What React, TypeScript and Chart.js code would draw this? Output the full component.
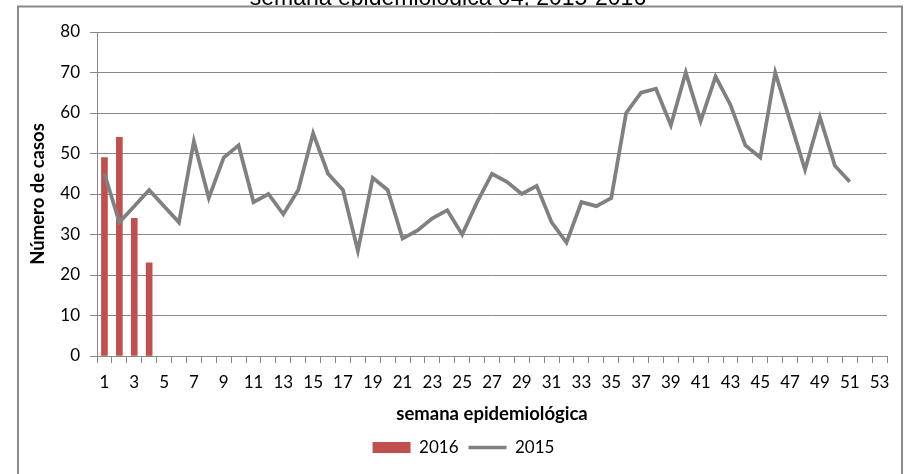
import React, { useEffect, useRef } from "react";
import { Chart, registerables } from "chart.js";

Chart.register(...registerables);

const weeks: string[] = Array.from({ length: 53 }, (_, i) => String(i + 1));
const cases2016: (number | null)[] = [49, 54, 34, 23];
const cases2015: (number | null)[] = [
  45, 33, 37, 41, 37, 33, 53, 39, 49, 52,
  38, 40, 35, 41, 55, 45, 41, 26, 44, 41,
  29, 31, 34, 36, 30, 38, 45, 43, 40, 42,
  33, 28, 38, 37, 39, 60, 65, 66, 57, 70,
  58, 69, 62, 52, 49, 70, 58, 46, 59, 47,
  43,
];
const yTicks = { min: 0, max: 80, step: 10 };
const chartTitle = "semana epidemiológica 04, 2015-2016";
const xTitle = "semana epidemiológica";
const yTitle = "Número de casos";
const seriesNames = ["2016", "2015"];

const FONT = "Lato, 'Open Sans', sans-serif";

const framePlugin = {
  id: "framePlugin",
  afterLayout(chart: any) {
    if (chart.legend) {
      chart.legend.left += 10;
      chart.legend.right += 10;
    }
  },
  beforeDraw(chart: any) {
    const ctx = chart.ctx as CanvasRenderingContext2D;
    ctx.save();
    ctx.fillStyle = "#ffffff";
    ctx.fillRect(0, 0, chart.width, chart.height);
    ctx.fillStyle = "#000000";
    ctx.font = "23px 'Liberation Sans', Arial, sans-serif";
    ctx.textAlign = "center";
    ctx.textBaseline = "alphabetic";
    ctx.fillText(chartTitle, 448, 5);
    ctx.fillStyle = "#ffffff";
    ctx.fillRect(18, 6.5, 884, 600);
    ctx.strokeStyle = "#8a8a8a";
    ctx.lineWidth = 2;
    ctx.strokeRect(18, 6.5, 884, 600);
    ctx.restore();
  },
};

export default function App() {
  const ref = useRef<HTMLCanvasElement | null>(null);
  useEffect(() => {
    if (!ref.current) return;
    const chart = new Chart(ref.current, {
      type: "bar",
      data: {
        labels: weeks,
        datasets: [
          {
            type: "bar",
            label: seriesNames[0],
            data: cases2016,
            backgroundColor: "#C0504D",
            borderWidth: 0,
            barThickness: 6,
            order: 2,
          },
          {
            type: "line",
            label: seriesNames[1],
            data: cases2015,
            borderColor: "#808080",
            backgroundColor: "#808080",
            borderWidth: 3.75,
            pointRadius: 0,
            tension: 0,
            order: 1,
          },
        ] as any,
      },
      options: {
        animation: false,
        responsive: false,
        layout: { padding: { left: 20, right: 18, top: 32, bottom: 8 } },
        plugins: {
          tooltip: { enabled: false },
          title: { display: false },
          legend: {
            position: "bottom",
            labels: {
              font: { family: FONT, size: 17 },
              color: "#000",
              usePointStyle: true,
              pointStyleWidth: 38,
              boxHeight: 11,
              padding: 10,
              sort: (a: any, b: any) => a.datasetIndex - b.datasetIndex,
              generateLabels: (c: any) =>
                c.data.datasets.map((ds: any, i: number) => ({
                  text: ds.label,
                  datasetIndex: i,
                  fillStyle: ds.type === "bar" ? "#C0504D" : "#808080",
                  strokeStyle: ds.type === "bar" ? "#C0504D" : "#808080",
                  lineWidth: ds.type === "bar" ? 0 : 3.5,
                  pointStyle: ds.type === "bar" ? "rect" : "line",
                  fontColor: "#000",
                  hidden: false,
                })),
            },
          },
        },
        scales: {
          x: {
            offset: true,
            grid: {
              offset: true,
              drawOnChartArea: false,
              drawTicks: true,
              tickLength: 7,
              color: "#888888",
            },
            border: { color: "#888888", width: 1 },
            ticks: {
              autoSkip: false,
              maxRotation: 0,
              padding: 9,
              color: "#000",
              font: { family: FONT, size: 17 },
              callback: (_v: any, i: number) => (i % 2 === 0 ? weeks[i] : ""),
            },
            title: {
              display: true,
              text: xTitle,
              color: "#000",
              font: { family: FONT, size: 18.5, weight: "bold" },
              padding: { top: 0, bottom: 4 },
            },
            afterFit: (s: any) => {
              s.height = 73;
            },
          },
          y: {
            min: yTicks.min,
            max: yTicks.max,
            ticks: {
              stepSize: yTicks.step,
              padding: 10,
              color: "#000",
              font: { family: FONT, size: 17 },
            },
            grid: { color: "#888888", tickLength: 7, lineWidth: 1 },
            border: { color: "#888888", width: 1 },
            title: {
              display: true,
              text: yTitle,
              color: "#000",
              font: { family: FONT, size: 18.5, weight: "bold" },
              padding: { top: 7, bottom: 0 },
            },
            afterFit: (s: any) => {
              s.width = 77;
            },
          },
        },
      } as any,
      plugins: [framePlugin],
    });
    return () => chart.destroy();
  }, []);
  return (
    <div style={{ position: "fixed", left: 0, top: 0, width: 905, height: 474, background: "#fff" }}>
      <canvas ref={ref} width={905} height={474} style={{ width: 905, height: 474, display: "block" }} />
    </div>
  );
}
